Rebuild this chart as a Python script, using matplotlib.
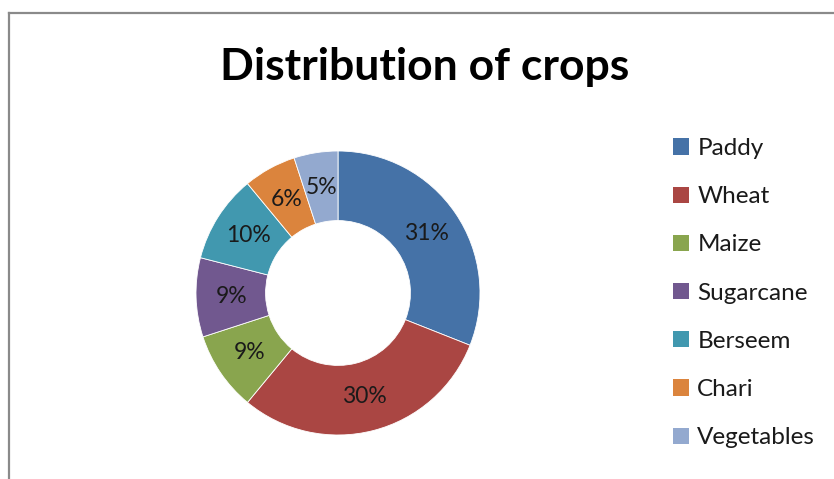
import matplotlib
matplotlib.use('Agg')
import matplotlib.pyplot as plt
from matplotlib.lines import Line2D
from matplotlib.patches import Patch

# Crop shares (percent)
crops = ['Paddy', 'Wheat', 'Maize', 'Sugarcane', 'Berseem', 'Chari', 'Vegetables']
shares = [31, 30, 9, 9, 10, 6, 5]
colors = ['#4572A7', '#AA4643', '#89A54E', '#71588F', '#4198AF', '#DB843D', '#93A9CF']

plt.rcParams['font.family'] = ['Lato', 'DejaVu Sans']

fig = plt.figure(figsize=(8.34, 4.79), dpi=100)

# chart border (top and left edges visible)
fig.add_artist(Line2D([9/834, 1], [1 - 13/479, 1 - 13/479], color='#8a8a8a', lw=1.6))
fig.add_artist(Line2D([9/834, 9/834], [0, 1 - 13/479], color='#8a8a8a', lw=1.6))

# donut: centre (338, 293) px, radius 142 px
cx, cy, r = 338, 293, 142
ax = fig.add_axes([(cx - r) / 834, (479 - cy - r) / 479, 2 * r / 834, 2 * r / 479])
wedges, texts, autotexts = ax.pie(
    shares, colors=colors, startangle=90, counterclock=False,
    radius=1, autopct='%d%%', pctdistance=0.75,
    wedgeprops=dict(width=0.49, edgecolor='white', linewidth=0.6),
    textprops=dict(fontsize=16.5, color='#1a1a1a'))
ax.set_xlim(-1, 1)
ax.set_ylim(-1, 1)
ax.set_aspect('equal')
ax.axis('off')

fig.text(425 / 834, 1 - 67 / 479, 'Distribution of crops', ha='center', va='center',
         fontsize=32, fontweight='bold', color='black')

handles = [Patch(facecolor=c, edgecolor='none') for c in colors]
fig.legend(handles, crops, loc='upper left', bbox_to_anchor=(673 / 834, 1 - 138 / 479),
           frameon=False, fontsize=17.5, handlelength=0.65, handleheight=0.65,
           handletextpad=0.35, labelspacing=1.12, borderaxespad=0, borderpad=0,
           labelcolor='#1a1a1a')

fig.savefig('out.png', dpi=100)
